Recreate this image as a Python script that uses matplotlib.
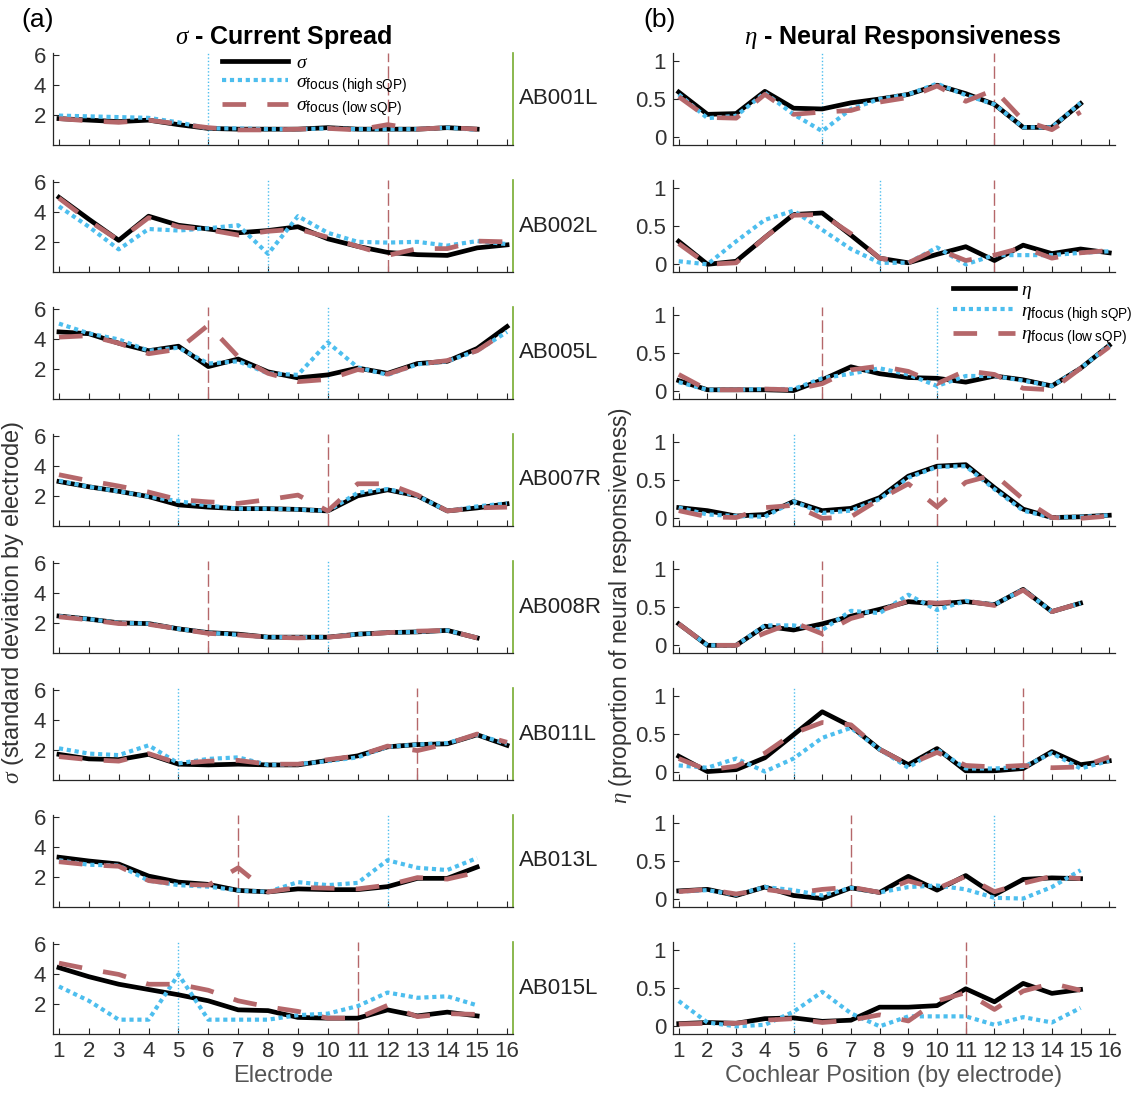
import numpy as np
import matplotlib.pyplot as plt

plt.rcParams['font.family'] = ['Liberation Sans', 'DejaVu Sans']
plt.rcParams['mathtext.fontset'] = 'custom'
plt.rcParams['mathtext.rm'] = 'Liberation Sans'
plt.rcParams['mathtext.it'] = 'Liberation Serif:italic'
plt.rcParams['mathtext.bf'] = 'Liberation Sans:bold'

subjects = ['AB001L', 'AB002L', 'AB005L', 'AB007R', 'AB008R', 'AB011L', 'AB013L', 'AB015L']

# electrode of the focused (high sQP / low sQP) reference lines
high_el = [6, 8, 10, 5, 10, 5, 12, 5]
low_el = [12, 12, 6, 10, 6, 13, 7, 11]

# sigma - current spread
sigma = [
    [1.75, 1.65, 1.55, 1.65, 1.35, 1.1, 1.05, 1.05, 1.05, 1.15, 1.05, 1.05, 1.05, 1.15, 1.05],
    [4.95, 3.5, 2.1, 3.7, 3.1, 2.85, 2.6, 2.75, 3.0, 2.2, 1.7, 1.3, 1.15, 1.1, 1.6, 1.8],
    [4.45, 4.33, 3.7, 3.2, 3.5, 2.15, 2.65, 1.8, 1.4, 1.6, 2.05, 1.7, 2.35, 2.5, 3.35, 4.8],
    [2.95, 2.6, 2.3, 1.95, 1.4, 1.25, 1.15, 1.15, 1.1, 1.0, 2.0, 2.4, 2.0, 1.0, 1.2, 1.47],
    [2.45, 2.25, 2.0, 1.95, 1.6, 1.35, 1.25, 1.05, 1.05, 1.05, 1.25, 1.35, 1.4, 1.5, 1.0],
    [1.7, 1.4, 1.35, 1.7, 1.05, 1.0, 1.05, 1.0, 1.0, 1.3, 1.6, 2.2, 2.35, 2.4, 3.0, 2.3],
    [3.3, 3.05, 2.85, 2.05, 1.65, 1.5, 1.1, 1.0, 1.2, 1.15, 1.15, 1.35, 1.9, 1.9, 2.65],
    [4.4, 3.8, 3.3, 2.95, 2.6, 2.2, 1.6, 1.55, 1.1, 1.05, 1.05, 1.6, 1.2, 1.45, 1.2],
]
sigma_high = [
    [1.95, 1.9, 1.85, 1.8, 1.5, 1.1, 1.1, 1.05, 1.05, 1.1, 1.05, 1.05, 1.05, 1.15, 1.0],
    [4.35, 3.0, 1.5, 2.85, 2.75, 2.9, 3.1, 1.2, 3.7, 2.6, 2.0, 1.95, 2.0, 1.75, 2.05, 1.85],
    [5.0, 4.35, 3.95, 3.2, 3.4, 2.35, 2.5, 1.7, 1.6, 3.75, 2.1, 1.6, 2.3, 2.5, 3.2, 4.45],
    [3.0, 2.6, 2.3, 1.95, 1.65, 1.35, 1.15, 1.15, 1.1, 1.0, 2.2, 2.45, 2.0, 1.0, 1.3, 1.5],
    [2.45, 2.25, 2.0, 1.95, 1.6, 1.35, 1.2, 1.05, 1.05, 1.05, 1.25, 1.35, 1.4, 1.5, 1.0],
    [2.1, 1.75, 1.65, 2.3, 1.1, 1.4, 1.5, 1.0, 1.05, 1.25, 1.5, 2.2, 2.35, 2.45, 3.0, 2.4],
    [3.1, 2.8, 2.75, 1.75, 1.45, 1.35, 1.1, 1.0, 1.65, 1.45, 1.6, 3.1, 2.6, 2.45, 3.25],
    [3.15, 2.2, 0.95, 0.95, 3.95, 0.95, 0.95, 0.95, 1.25, 1.35, 1.85, 2.75, 2.4, 2.5, 1.9],
]
sigma_low = [
    [1.75, 1.6, 1.5, 1.65, 1.4, 1.15, 1.0, 1.0, 1.05, 1.1, 1.0, 1.35, 1.05, 1.15, 1.05],
    [4.9, 3.4, 2.1, 3.6, 3.0, 2.8, 2.45, 2.7, 2.85, 2.3, 1.7, 1.1, 1.55, 1.55, 2.05, 2.0],
    [4.1, 4.2, 3.7, 3.0, 3.3, 4.9, 2.8, 1.7, 1.15, 1.3, 1.95, 1.65, 2.3, 2.55, 3.2, 4.5],
    [3.4, 3.0, 2.65, 2.25, 1.75, 1.6, 1.5, 1.75, 2.05, 1.0, 2.8, 2.8, 2.05, 1.0, 1.2, 1.25],
    [2.4, 2.2, 1.95, 1.9, 1.6, 1.3, 1.2, 1.05, 1.0, 1.05, 1.2, 1.35, 1.45, 1.5, 1.0],
    [1.55, 1.35, 1.25, 1.75, 1.1, 1.25, 1.3, 1.05, 1.05, 1.35, 1.6, 2.25, 1.95, 2.4, 3.05, 2.5],
    [3.0, 2.8, 2.7, 1.75, 1.5, 1.45, 2.6, 1.0, 1.3, 1.25, 1.2, 1.45, 1.95, 1.85, 2.3],
    [4.7, 4.3, 3.95, 3.3, 3.3, 2.9, 2.2, 1.8, 1.5, 1.05, 1.05, 1.9, 1.15, 1.35, 1.3],
]

# eta - neural responsiveness
eta = [
    [0.59, 0.3, 0.31, 0.6, 0.38, 0.37, 0.45, 0.5, 0.56, 0.68, 0.57, 0.43, 0.13, 0.13, 0.44],
    [0.3, 0.0, 0.04, 0.35, 0.65, 0.67, 0.38, 0.08, 0.02, 0.13, 0.23, 0.05, 0.25, 0.14, 0.2, 0.15],
    [0.14, 0.02, 0.02, 0.02, 0.01, 0.15, 0.32, 0.23, 0.18, 0.17, 0.12, 0.2, 0.15, 0.07, 0.3, 0.6],
    [0.14, 0.1, 0.03, 0.05, 0.22, 0.1, 0.13, 0.27, 0.55, 0.68, 0.7, 0.4, 0.12, 0.01, 0.02, 0.04],
    [0.28, 0.0, 0.0, 0.25, 0.2, 0.28, 0.38, 0.47, 0.57, 0.54, 0.57, 0.53, 0.73, 0.44, 0.55],
    [0.21, 0.01, 0.035, 0.19, 0.49, 0.79, 0.6, 0.3, 0.1, 0.31, 0.02, 0.02, 0.05, 0.27, 0.1, 0.15],
    [0.11, 0.13, 0.05, 0.16, 0.05, 0.01, 0.15, 0.09, 0.3, 0.12, 0.31, 0.06, 0.26, 0.28, 0.27],
    [0.035, 0.05, 0.04, 0.1, 0.11, 0.065, 0.08, 0.25, 0.25, 0.27, 0.49, 0.32, 0.56, 0.43, 0.48],
]
eta_high = [
    [0.56, 0.25, 0.28, 0.58, 0.3, 0.08, 0.37, 0.5, 0.56, 0.7, 0.55, 0.43, 0.13, 0.13, 0.45],
    [0.04, 0.0, 0.3, 0.58, 0.7, 0.45, 0.2, 0.02, 0.02, 0.22, 0.0, 0.12, 0.12, 0.12, 0.15, 0.17],
    [0.12, 0.02, 0.02, 0.03, 0.03, 0.17, 0.23, 0.3, 0.22, 0.07, 0.2, 0.2, 0.14, 0.07, 0.3, 0.6],
    [0.14, 0.05, 0.03, 0.02, 0.22, 0.07, 0.1, 0.25, 0.53, 0.67, 0.68, 0.38, 0.1, 0.01, 0.02, 0.04],
    [0.28, 0.0, 0.0, 0.26, 0.26, 0.2, 0.45, 0.42, 0.66, 0.46, 0.58, 0.53, 0.73, 0.44, 0.55],
    [0.09, 0.06, 0.18, 0.01, 0.18, 0.45, 0.58, 0.3, 0.06, 0.3, 0.05, 0.05, 0.07, 0.25, 0.05, 0.15],
    [0.1, 0.12, 0.06, 0.16, 0.12, 0.05, 0.15, 0.09, 0.16, 0.18, 0.13, 0.02, 0.01, 0.16, 0.38],
    [0.33, 0.05, 0.0, 0.02, 0.19, 0.45, 0.17, 0.0, 0.13, 0.13, 0.13, 0.02, 0.12, 0.05, 0.24],
]
eta_low = [
    [0.53, 0.26, 0.25, 0.56, 0.3, 0.33, 0.35, 0.46, 0.52, 0.67, 0.47, 0.62, 0.22, 0.1, 0.33],
    [0.27, 0.0, 0.02, 0.35, 0.64, 0.65, 0.4, 0.08, 0.02, 0.2, 0.05, 0.12, 0.22, 0.08, 0.15, 0.18],
    [0.22, 0.02, 0.02, 0.03, 0.02, 0.1, 0.28, 0.33, 0.26, 0.1, 0.27, 0.22, 0.04, 0.02, 0.3, 0.58],
    [0.1, 0.02, 0.01, 0.14, 0.17, 0.0, 0.02, 0.25, 0.45, 0.15, 0.47, 0.57, 0.25, 0.01, 0.0, 0.03],
    [0.28, 0.0, 0.0, 0.16, 0.3, 0.15, 0.35, 0.45, 0.58, 0.55, 0.58, 0.52, 0.72, 0.44, 0.55],
    [0.18, 0.03, 0.08, 0.25, 0.51, 0.65, 0.62, 0.3, 0.1, 0.26, 0.09, 0.07, 0.09, 0.06, 0.07, 0.2],
    [0.1, 0.13, 0.07, 0.13, 0.08, 0.13, 0.16, 0.09, 0.24, 0.14, 0.3, 0.1, 0.21, 0.3, 0.27],
    [0.03, 0.04, 0.04, 0.08, 0.1, 0.05, 0.08, 0.15, 0.07, 0.33, 0.44, 0.22, 0.46, 0.56, 0.47],
]

electrodes = list(range(1, 17))

BLUE = '#4DBEEE'
RED = '#B5676A'
GREEN = '#77AC30'
TXT = '#333333'

W, H = 1146, 1094
fig = plt.figure(figsize=(W / 100, H / 100), dpi=100)


def draw(ax, y0, y1, y2, hi, lo):
    x = np.arange(1, len(y0) + 1)
    ax.axvline(hi, color=BLUE, lw=1.0, ls=(0, (1, 1.5)))
    ax.axvline(lo, color=RED, lw=1.0, ls=(0, (9, 3)))
    l0, = ax.plot(x, y0, color='k', lw=3.4)
    l1, = ax.plot(x, y1, color=BLUE, lw=3.0, ls=(0, (1, 0.9)))
    l2, = ax.plot(x, y2, color=RED, lw=3.4, ls=(0, (5, 4.5)))
    return l0, l1, l2


def style(ax, last):
    for s in ['top', 'right']:
        ax.spines[s].set_visible(False)
    for s in ['left', 'bottom']:
        ax.spines[s].set_color('#262626')
        ax.spines[s].set_linewidth(0.9)
    ax.set_xlim(0.8, 16.2)
    ax.set_xticks(electrodes)
    ax.tick_params(direction='in', length=4, width=0.8, colors='#262626',
                   labelsize=16, labelcolor=TXT, labelbottom=last, pad=5)


top0, pitch, hgt = 53, 127, 92
handles_l = handles_r = None
for i, name in enumerate(subjects):
    top = top0 + pitch * i
    bottom = 1 - (top + hgt) / H
    last = i == len(subjects) - 1

    axl = fig.add_axes([53 / W, bottom, 460 / W, hgt / H])
    h = draw(axl, sigma[i], sigma_high[i], sigma_low[i], high_el[i], low_el[i])
    if i == 0:
        handles_l = h
    style(axl, last)
    axl.set_ylim(0, 6.1)
    axl.set_yticks([2, 4, 6])
    axl.spines['right'].set_visible(True)
    axl.spines['right'].set_color(GREEN)
    axl.spines['right'].set_linewidth(1.2)
    axl.text(1.013, 0.5, name, transform=axl.transAxes, va='center', ha='left',
             fontsize=16, color='#222222')

    axr = fig.add_axes([673 / W, bottom, 442 / W, hgt / H])
    h = draw(axr, eta[i], eta_high[i], eta_low[i], high_el[i], low_el[i])
    if i == 2:
        handles_r = h
    style(axr, last)
    axr.set_ylim(-0.1, 1.1)
    axr.set_yticks([0, 0.5, 1])
    axr.set_yticklabels(['0', '0.5', '1'])

    if last:
        axl.set_xlabel('Electrode', fontsize=17, color='#555555', labelpad=2)
        axr.set_xlabel('Cochlear Position (by electrode)', fontsize=17,
                       color='#555555', labelpad=2)

fig.legend(handles_l, [r'$\sigma$', r'$\sigma_{\mathrm{focus\ (high\ sQP)}}$',
                       r'$\sigma_{\mathrm{focus\ (low\ sQP)}}$'],
           loc='upper left', bbox_to_anchor=(222 / W, 1 - 54 / H), frameon=False,
           fontsize=14, handlelength=3.4, handletextpad=0.4, borderpad=0,
           borderaxespad=0, labelspacing=0.1)
fig.legend(handles_r, [r'$\eta$', r'$\eta_{\mathrm{focus\ (high\ sQP)}}$',
                       r'$\eta_{\mathrm{focus\ (low\ sQP)}}$'],
           loc='upper left', bbox_to_anchor=(953 / W, 1 - 281 / H), frameon=False,
           fontsize=14, handlelength=3.2, handletextpad=0.3, borderpad=0,
           borderaxespad=0, labelspacing=0.1)

fig.text(283 / W, 1 - 37 / H, r'$\sigma$ - Current Spread', fontsize=18,
         fontweight='bold', ha='center', va='center')
fig.text(903 / W, 1 - 37 / H, r'$\eta$ - Neural Responsiveness', fontsize=18,
         fontweight='bold', ha='center', va='center')
fig.text(38 / W, 1 - 20 / H, '(a)', fontsize=19, ha='center', va='center')
fig.text(660 / W, 1 - 20 / H, '(b)', fontsize=19, ha='center', va='center')

fig.text(13 / W, 1 - 603 / H, r'$\sigma$ (standard deviation by electrode)',
         rotation=90, fontsize=17, color=TXT, ha='center', va='center')
fig.text(620 / W, 1 - 605 / H, r'$\eta$ (proportion of neural responsiveness)',
         rotation=90, fontsize=16.5, color=TXT, ha='center', va='center')

fig.savefig('out.png', dpi=100)
